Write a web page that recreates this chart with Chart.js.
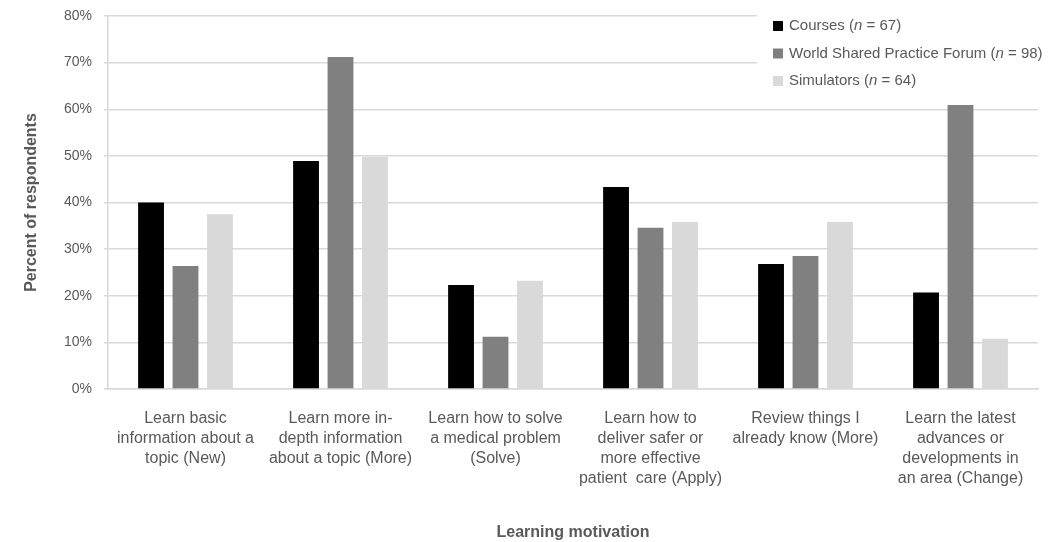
<!DOCTYPE html>
<html>
<head>
<meta charset="utf-8">
<script src="https://cdn.jsdelivr.net/npm/chart.js@4.4.0/dist/chart.umd.min.js"></script>
<style>
  html, body { margin: 0; background: #fff; }
  #wrap { width: 1054px; height: 542px; }
</style>
</head>
<body>
<div id="wrap"><canvas id="myChart"></canvas></div>
<script>
// categories (multi-line tick labels)
let motivations = [
  ['Learn basic', 'information about a', 'topic (New)'],
  ['Learn more in-', 'depth information', 'about a topic (More)'],
  ['Learn how to solve', 'a medical problem', '(Solve)'],
  ['Learn how to', 'deliver safer or', 'more effective', 'patient  care (Apply)'],
  ['Review things I', 'already know (More)'],
  ['Learn the latest', 'advances or', 'developments in', 'an area (Change)']
];

let seriesNames = ['Courses', 'World Shared Practice Forum', 'Simulators'];
let seriesN = [67, 98, 64];
let seriesColors = ['#000000', '#808080', '#d9d9d9'];

// percent of respondents
let courses = [40.0, 48.9, 22.3, 43.3, 26.8, 20.7];
let forum = [26.4, 71.2, 11.2, 34.6, 28.5, 60.9];
let simulators = [37.5, 49.8, 23.2, 35.8, 35.8, 10.8];

let yTicks = [0, 10, 20, 30, 40, 50, 60, 70, 80];

const textColor = '#595959';
const fontFamily = "'Liberation Sans', Arial, sans-serif";

//legend drawn on top of the plot with the italic n
const boxLegend = {
  id: 'boxLegend',
  afterDraw(chart) {
    const ctx = chart.ctx;
    ctx.save();
    ctx.fillStyle = '#ffffff';
    ctx.fillRect(757, 6, 297, 88);
    chart.data.datasets.forEach((ds, i) => {
      let y = 26 + i * 27.5;
      ctx.fillStyle = ds.backgroundColor;
      ctx.fillRect(773, y - 5, 10, 10);
      ctx.fillStyle = textColor;
      ctx.textBaseline = 'middle';
      let x = 789;
      let parts = [
        [seriesNames[i] + ' (', 'normal'],
        ['n', 'italic'],
        [' = ' + seriesN[i] + ')', 'normal']
      ];
      parts.forEach(p => {
        ctx.font = p[1] + ' 15px ' + fontFamily;
        ctx.fillText(p[0], x, y);
        x += ctx.measureText(p[0]).width;
      });
    });
    ctx.restore();
  }
};

let barChart = new Chart(document.getElementById('myChart').getContext('2d'), {
  type: 'bar',
  data: {
    labels: motivations,
    datasets: [
      { label: seriesNames[0] + ' (n = ' + seriesN[0] + ')', data: courses, backgroundColor: seriesColors[0] },
      { label: seriesNames[1] + ' (n = ' + seriesN[1] + ')', data: forum, backgroundColor: seriesColors[1] },
      { label: seriesNames[2] + ' (n = ' + seriesN[2] + ')', data: simulators, backgroundColor: seriesColors[2] }
    ]
  },
  options: {
    responsive: true,
    maintainAspectRatio: false,
    animation: false,
    categoryPercentage: 0.667,
    barPercentage: 0.75,
    layout: { padding: { left: 8, right: 16, top: 16, bottom: 0 } },
    plugins: {
      legend: { display: false },
      tooltip: { enabled: false }
    },
    scales: {
      x: {
        grid: { display: false },
        border: { display: true, color: '#d9d9d9', width: 1.5 },
        ticks: {
          color: textColor,
          padding: 12,
          maxRotation: 0,
          autoSkip: false,
          font: { family: fontFamily, size: 16, lineHeight: 1.25 }
        },
        title: {
          display: true,
          text: 'Learning motivation',
          color: textColor,
          font: { family: fontFamily, size: 16, weight: 'bold' },
          padding: 0
        },
        afterFit: s => { s.height = 153; }
      },
      y: {
        min: 0,
        max: 80,
        afterBuildTicks: s => { s.ticks = yTicks.map(v => ({ value: v })); },
        grid: { color: '#d9d9d9', lineWidth: 1.5, tickLength: 4 },
        border: { display: true, color: '#d9d9d9', width: 1.5 },
        ticks: {
          color: textColor,
          padding: 12,
          font: { family: fontFamily, size: 14 },
          callback: v => v + '%'
        },
        title: {
          display: true,
          text: 'Percent of respondents',
          color: textColor,
          font: { family: fontFamily, size: 16, weight: 'bold' },
          padding: { top: 14 }
        },
        afterFit: s => {
          s.width = 100;
          s.paddingTop = 0;
          s.paddingBottom = 0;
        }
      }
    }
  },
  plugins: [boxLegend]
});
</script>
</body>
</html>
